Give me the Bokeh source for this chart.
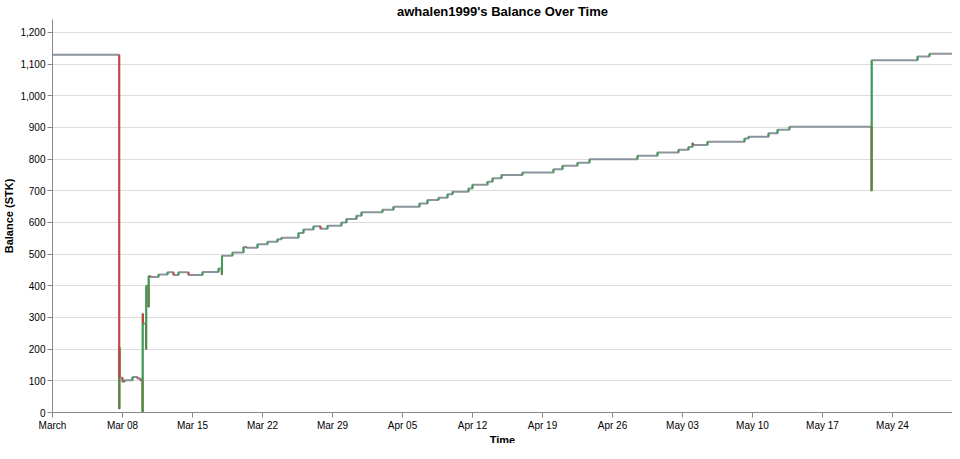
import pandas as pd
import numpy as np
from bokeh.plotting import figure
from bokeh.models import (Range1d, FixedTicker, SingleIntervalTicker, NumeralTickFormatter,
                          ColumnDataSource, Title)
from bokeh.embed import file_html
from bokeh.resources import INLINE

title_text = "awhalen1999's Balance Over Time"
x_title = "Time"
y_title = "Balance (STK)"
start_date = "2020-03-01"
end_date = "2020-05-30"

times = [
    "2020-03-01 00:00", "2020-03-07 16:05", "2020-03-07 16:34", "2020-03-07 17:02",
    "2020-03-08 00:00", "2020-03-08 04:48", "2020-03-09 00:00", "2020-03-09 12:00",
    "2020-03-09 19:12", "2020-03-10 00:00", "2020-03-10 00:29", "2020-03-10 01:12",
    "2020-03-10 08:24", "2020-03-10 08:53", "2020-03-10 14:24", "2020-03-10 14:53",
    "2020-03-10 19:12", "2020-03-11 14:24", "2020-03-12 12:00", "2020-03-13 02:24",
    "2020-03-13 14:24", "2020-03-14 14:24", "2020-03-16 00:00", "2020-03-17 14:24",
    "2020-03-17 22:19", "2020-03-17 22:48", "2020-03-19 00:00", "2020-03-20 02:24",
    "2020-03-20 09:36", "2020-03-21 12:00", "2020-03-22 12:00", "2020-03-23 12:00",
    "2020-03-23 21:36", "2020-03-25 14:24", "2020-03-26 02:24", "2020-03-27 02:24",
    "2020-03-27 19:12", "2020-03-28 12:00", "2020-03-29 21:36", "2020-03-30 09:36",
    "2020-03-31 09:36", "2020-03-31 21:36", "2020-04-03 00:00", "2020-04-04 02:24",
    "2020-04-06 16:48", "2020-04-07 12:00", "2020-04-08 14:24", "2020-04-09 12:00",
    "2020-04-10 00:00", "2020-04-11 14:24", "2020-04-12 00:00", "2020-04-13 12:00",
    "2020-04-14 00:00", "2020-04-14 21:36", "2020-04-17 00:00", "2020-04-20 02:24",
    "2020-04-21 00:00", "2020-04-22 12:00", "2020-04-23 16:48", "2020-04-28 12:00",
    "2020-04-30 12:00", "2020-05-02 14:24", "2020-05-03 14:24", "2020-05-04 00:00",
    "2020-05-04 01:12", "2020-05-05 12:00", "2020-05-09 04:48", "2020-05-09 14:24",
    "2020-05-11 14:24", "2020-05-12 12:00", "2020-05-13 16:48", "2020-05-21 21:36",
    "2020-05-21 22:05", "2020-05-26 12:00", "2020-05-27 16:48", "2020-05-30 00:00",
]
balances = [
    1130, 12, 205, 110,
    97, 102, 112, 107,
    101, 0, 312, 281,
    200, 400, 333, 431,
    428, 436, 443, 434,
    443, 434, 444, 455,
    436, 495, 505, 523,
    520, 531, 539, 547,
    552, 567, 578, 588,
    580, 590, 600, 611,
    621, 632, 640, 650,
    660, 671, 678, 689,
    697, 707, 719, 729,
    740, 750, 758, 768,
    779, 789, 800, 811,
    821, 830, 838, 850,
    845, 855, 865, 871,
    882, 893, 902, 700,
    1112, 1124, 1133, 1133,
]

tick_dates = ["2020-03-01", "2020-03-08", "2020-03-15", "2020-03-22", "2020-03-29",
              "2020-04-05", "2020-04-12", "2020-04-19", "2020-04-26", "2020-05-03",
              "2020-05-10", "2020-05-17", "2020-05-24"]
tick_labels = ["March", "Mar 08", "Mar 15", "Mar 22", "Mar 29", "Apr 05", "Apr 12",
               "Apr 19", "Apr 26", "May 03", "May 10", "May 17", "May 24"]

GRAY = "#8b949e"
GREEN = "#2ea043"
RED = "#da3633"
FONT = "Liberation Sans"

t0 = pd.Timestamp(start_date)
to_days = lambda s: ((pd.to_datetime(s) - t0) / pd.Timedelta(days=1))
days = np.asarray(to_days(pd.Series(times)), dtype=float)
bal = np.asarray(balances, dtype=float)
tick_pos = [float(v) for v in to_days(pd.Series(tick_dates))]
x_end = float(to_days(pd.Series([end_date]))[0])

p = figure(width=952, height=443, output_backend="svg", toolbar_location=None,
           x_range=Range1d(0, x_end), y_range=Range1d(0, 1241),
           min_border_left=46, min_border_right=0, min_border_top=4, min_border_bottom=0)

p.title.text = title_text
p.title.align = "center"
p.title.text_font = FONT
p.title.text_font_size = "13px"
p.title.text_font_style = "bold"
p.title.text_color = "#000000"
p.title.standoff = 2

p.step(days, bal, mode="after", line_color=GRAY, line_width=2)

x = days[1:]
y0 = bal[:-1]
y1 = bal[1:]
mask = y0 != y1
colors = np.where(y1[mask] > y0[mask], GREEN, RED)
src = ColumnDataSource(dict(x=x[mask], y0=y0[mask], y1=y1[mask], color=colors))
p.segment(x0="x", y0="y0", x1="x", y1="y1", line_color="color", line_width=2,
          line_alpha=0.85, source=src)

p.xgrid.grid_line_color = None
p.ygrid.grid_line_color = "#dddddd"
p.outline_line_color = None

p.xaxis.ticker = FixedTicker(ticks=tick_pos)
p.xaxis.major_label_overrides = {tp: lab for tp, lab in zip(tick_pos, tick_labels)}
p.yaxis.ticker = SingleIntervalTicker(interval=100)
p.yaxis.formatter = NumeralTickFormatter(format="0,0")

for ax in (p.xaxis[0], p.yaxis[0]):
    ax.axis_line_color = "#888888"
    ax.major_tick_line_color = "#888888"
    ax.minor_tick_line_color = None
    ax.major_tick_out = 5
    ax.major_tick_in = 0
    ax.major_label_text_font = FONT
    ax.major_label_text_font_size = "10px"
    ax.major_label_text_color = "#000000"
    ax.major_label_standoff = 2
    ax.axis_label_text_font = FONT
    ax.axis_label_text_font_size = "11px"
    ax.axis_label_text_font_style = "bold"
    ax.axis_label_text_color = "#000000"
    ax.axis_label_standoff = 2

p.yaxis.axis_label = y_title

x_label = Title(text=x_title, align="center", vertical_align="bottom", standoff=-4,
                text_font=FONT, text_font_size="11px", text_font_style="bold",
                text_color="#000000")
p.add_layout(x_label, "below")

open("out.html", "w").write(file_html(p, INLINE))
